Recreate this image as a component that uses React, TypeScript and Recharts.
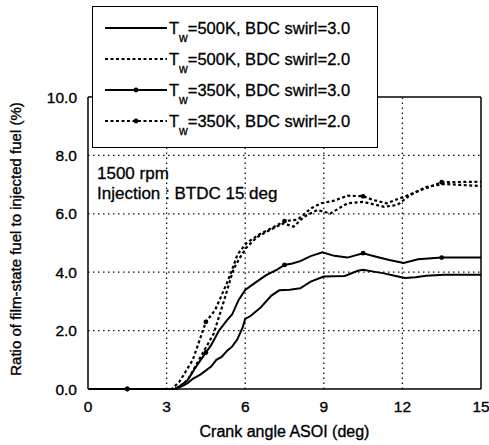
import { LineChart, Line, XAxis, YAxis, ReferenceLine } from 'recharts'

const X_TICKS = [0, 3, 6, 9, 12, 15]
const Y_TICKS = [0, 2, 4, 6, 8, 10]
const X_MINOR = [0, 1, 2, 3, 4, 5, 6, 7, 8, 9, 10, 11, 12, 13, 14, 15]
const Y_MINOR = [0, 1, 2, 3, 4, 5, 6, 7, 8, 9, 10]
const GRID_X = [3, 6, 9, 12]
const GRID_Y = [2, 4, 6, 8]
const MARKER_X = [1.5, 4.5, 7.5, 10.5, 13.5]

// Tw=500K, BDC swirl=3.0
const T500_S3_X = [0, 3.3, 3.6, 3.8, 4.0, 4.3, 4.7, 4.9, 5.1, 5.3, 5.5, 5.7, 5.9, 6.0, 6.2, 6.6, 7.0, 7.3, 7.7, 8.1, 8.5, 9.0, 9.4, 9.8, 10.3, 10.5, 10.9, 11.3, 11.7, 12.1, 12.5, 12.9, 13.6, 15]
const T500_S3_Y = [0, 0, 0.1, 0.2, 0.35, 0.5, 0.77, 1.0, 1.1, 1.3, 1.45, 1.7, 2.1, 2.4, 2.5, 2.8, 3.2, 3.38, 3.4, 3.45, 3.68, 3.85, 3.86, 3.87, 4.05, 4.08, 4.02, 3.96, 3.88, 3.8, 3.83, 3.88, 3.91, 3.91]

// Tw=500K, BDC swirl=2.0
const T500_S2_X = [0, 3.4, 3.8, 4.3, 4.8, 5.2, 5.55, 5.8, 6.05, 6.45, 6.95, 7.45, 7.85, 8.25, 8.75, 9.25, 9.9, 10.5, 11.3, 11.8, 12.3, 12.9, 13.6, 15]
const T500_S2_Y = [0, 0, 0.3, 1.1, 1.9, 3.05, 4.1, 4.5, 4.85, 5.2, 5.45, 5.67, 5.56, 5.9, 6.13, 6.01, 6.36, 6.41, 6.24, 6.3, 6.64, 6.92, 7.02, 6.95]

// Tw=350K, BDC swirl=3.0
const T350_S3_X = [0, 1.5, 3.3, 3.5, 3.8, 4.15, 4.5, 4.7, 5.0, 5.3, 5.5, 5.75, 6.0, 6.4, 6.8, 7.2, 7.5, 7.8, 8.1, 8.5, 8.95, 9.4, 9.9, 10.5, 11.0, 11.5, 12.05, 12.6, 13.5, 15]
const T350_S3_Y = [0, 0, 0, 0.1, 0.3, 0.8, 1.25, 1.5, 2.0, 2.35, 2.55, 3.05, 3.39, 3.65, 3.9, 4.08, 4.25, 4.3, 4.38, 4.55, 4.68, 4.56, 4.5, 4.65, 4.53, 4.42, 4.32, 4.44, 4.5, 4.5]

// Tw=350K, BDC swirl=2.0
const T350_S2_X = [0, 1.5, 3.2, 3.5, 4.0, 4.5, 4.85, 5.3, 5.5, 5.7, 6.05, 6.55, 7.1, 7.5, 8.0, 8.5, 8.9, 9.4, 9.9, 10.5, 10.9, 11.4, 12.05, 12.7, 13.5, 15]
const T350_S2_Y = [0, 0, 0, 0.26, 1.0, 2.3, 2.7, 3.62, 4.08, 4.6, 5.0, 5.3, 5.55, 5.75, 5.8, 6.18, 6.36, 6.45, 6.62, 6.6, 6.47, 6.36, 6.58, 6.81, 7.08, 7.1]

const toPoints = (xs: number[], ys: number[]) => xs.map((x, i) => ({ x, y: ys[i] }))

const FONT = '"Liberation Sans", Arial, sans-serif'
const DASH = '3 2.5'
const TEXT_STROKE = { stroke: '#000', strokeWidth: 0.35 }

const markerDot = (props: any) => {
  const { cx, cy, payload, index } = props
  if (!MARKER_X.includes(payload.x)) return <g key={`d${index}`} />
  return <circle key={`d${index}`} cx={cx} cy={cy} r={2.4} fill="#000" />
}

function Swatch({ dashed, marker }: { dashed?: boolean; marker?: boolean }) {
  return (
    <svg width={62} height={10} style={{ display: 'block' }}>
      <line x1={0} y1={5} x2={62} y2={5} stroke="#000" strokeWidth={2} strokeDasharray={dashed ? DASH : undefined} />
      {marker && <circle cx={31} cy={5} r={2.4} fill="#000" />}
    </svg>
  )
}

const LEGEND_ROWS = [
  { temp: '500K', swirl: '3.0', dashed: false, marker: false },
  { temp: '500K', swirl: '2.0', dashed: true, marker: false },
  { temp: '350K', swirl: '3.0', dashed: false, marker: true },
  { temp: '350K', swirl: '2.0', dashed: true, marker: true },
]

const frame = { stroke: '#000', strokeWidth: 1.5 }
const minorTick = { stroke: '#000', strokeWidth: 1.2 }

export default function App() {
  return (
    <div style={{ position: 'absolute', left: 0, top: 0, width: 489, height: 445, background: '#fff', fontFamily: FONT, color: '#000', WebkitTextStroke: '0.3px #000' }}>
      <LineChart width={489} height={445} margin={{ top: 97, right: 8, bottom: 26, left: 28 }}>
        <XAxis
          xAxisId="b"
          dataKey="x"
          type="number"
          domain={[0, 15]}
          ticks={X_TICKS}
          height={30}
          tickLine={false}
          tickSize={0}
          tickMargin={12}
          axisLine={frame}
          tick={{ fontSize: 15.5, fill: '#000', fontFamily: FONT, ...TEXT_STROKE }}
          label={{ value: 'Crank angle ASOI (deg)', position: 'bottom', offset: 7, fontSize: 16, fill: '#000', fontFamily: FONT, ...TEXT_STROKE }}
        />
        <XAxis xAxisId="bm" dataKey="x" type="number" domain={[0, 15]} ticks={X_MINOR} orientation="bottom" mirror height={10} tick={false} tickSize={5} axisLine={false} tickLine={minorTick} />
        <XAxis xAxisId="t" dataKey="x" type="number" domain={[0, 15]} ticks={X_MINOR} orientation="top" mirror height={10} tick={false} tickSize={5} axisLine={frame} tickLine={minorTick} />
        <YAxis
          yAxisId="l"
          type="number"
          domain={[0, 10]}
          ticks={Y_TICKS}
          width={60}
          tickLine={false}
          tickSize={0}
          tickMargin={11}
          axisLine={frame}
          tickFormatter={(v: number) => v.toFixed(1)}
          tick={{ fontSize: 15.5, fill: '#000', fontFamily: FONT, ...TEXT_STROKE }}
          label={{
            content: () => (
              <text x={15} y={239} transform="rotate(-90, 15, 239)" textAnchor="middle" dominantBaseline="central" fontSize={15} fontFamily={FONT} fill="#000" {...TEXT_STROKE}>
                Ratio of film-state fuel to injected fuel (%)
              </text>
            ),
          }}
        />
        <YAxis yAxisId="lm" type="number" domain={[0, 10]} ticks={Y_MINOR} orientation="left" mirror width={10} tick={false} tickSize={5} axisLine={false} tickLine={minorTick} />
        <YAxis yAxisId="r" type="number" domain={[0, 10]} ticks={Y_MINOR} orientation="right" mirror width={10} tick={false} tickSize={5} axisLine={frame} tickLine={minorTick} />

        {GRID_X.map((v) => (
          <ReferenceLine key={`gx${v}`} xAxisId="b" yAxisId="l" x={v} stroke="#111" strokeWidth={1.3} strokeDasharray="1.5 3.5" />
        ))}
        {GRID_Y.map((v) => (
          <ReferenceLine key={`gy${v}`} xAxisId="b" yAxisId="l" y={v} stroke="#111" strokeWidth={1.3} strokeDasharray="1.5 3.5" />
        ))}

        <Line xAxisId="b" yAxisId="l" data={toPoints(T500_S3_X, T500_S3_Y)} dataKey="y" type="linear" stroke="#000" strokeWidth={2} dot={false} isAnimationActive={false} />
        <Line xAxisId="b" yAxisId="l" data={toPoints(T500_S2_X, T500_S2_Y)} dataKey="y" type="linear" stroke="#000" strokeWidth={2.2} strokeDasharray={DASH} dot={false} isAnimationActive={false} />
        <Line xAxisId="b" yAxisId="l" data={toPoints(T350_S3_X, T350_S3_Y)} dataKey="y" type="linear" stroke="#000" strokeWidth={2} dot={markerDot} isAnimationActive={false} />
        <Line xAxisId="b" yAxisId="l" data={toPoints(T350_S2_X, T350_S2_Y)} dataKey="y" type="linear" stroke="#000" strokeWidth={2.2} strokeDasharray={DASH} dot={markerDot} isAnimationActive={false} />
      </LineChart>

      <div style={{ position: 'absolute', left: 97, top: 164, fontSize: 17, lineHeight: '20px', whiteSpace: 'nowrap' }}>
        <div>1500 rpm</div>
        <div>Injection : BTDC 15 deg</div>
      </div>

      <div style={{ position: 'absolute', left: 92, top: 6, width: 286, height: 142, boxSizing: 'border-box', border: '1.5px solid #000', background: '#fff' }}>
        {LEGEND_ROWS.map((r, i) => (
          <div key={i} style={{ position: 'absolute', left: 12, top: 12 + i * 31, display: 'flex', alignItems: 'center', height: 18, whiteSpace: 'nowrap', fontSize: 16.5 }}>
            <Swatch dashed={r.dashed} marker={r.marker} />
            <span style={{ marginLeft: 2 }}>
              T<span style={{ fontSize: 12, position: 'relative', top: 8 }}>w</span>={r.temp}, BDC swirl={r.swirl}
            </span>
          </div>
        ))}
      </div>
    </div>
  )
}
